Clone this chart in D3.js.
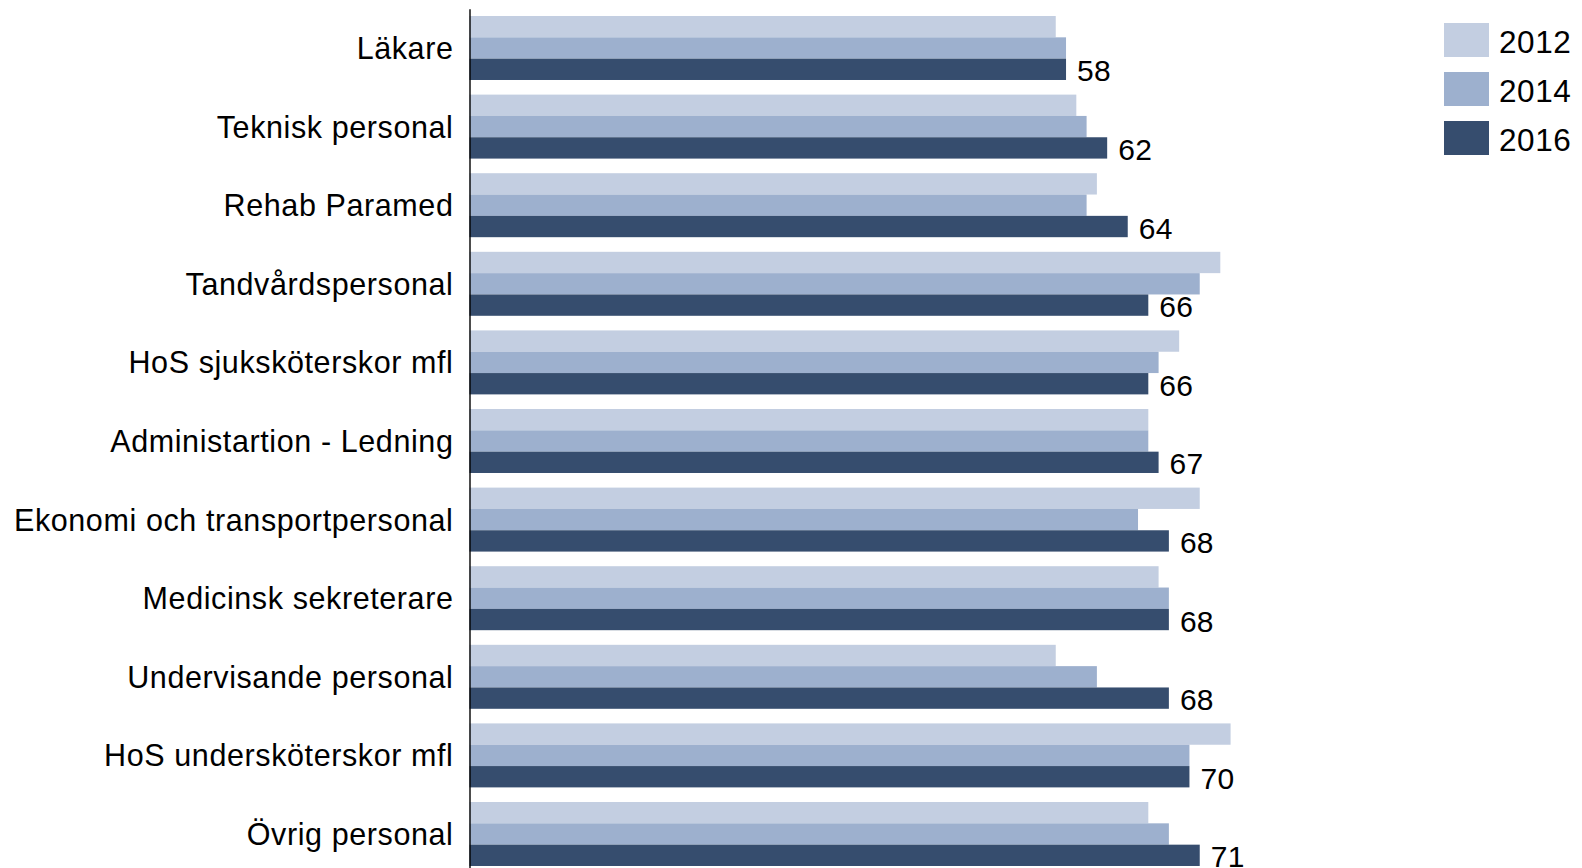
<!DOCTYPE html>
<html>
<head>
<meta charset="utf-8">
<script src="https://cdn.jsdelivr.net/npm/d3@7"></script>
<style>
  html, body { margin: 0; padding: 0; background: #fff; }
  svg { display: block; }
  text { font-family: Arial, "Liberation Sans", sans-serif; fill: #000; }
</style>
</head>
<body>
<svg id="chart" width="1582" height="868"></svg>
<script>
const categories = ["Läkare", "Teknisk personal", "Rehab Paramed", "Tandvårdspersonal",
  "HoS sjuksköterskor mfl", "Administartion - Ledning", "Ekonomi och transportpersonal",
  "Medicinsk sekreterare", "Undervisande personal", "HoS undersköterskor mfl", "Övrig personal"];
const seriesNames = ["2012", "2014", "2016"];
const values2012 = [57, 59, 61, 73, 69, 66, 71, 67, 57, 74, 66];
const values2014 = [58, 60, 60, 71, 67, 66, 65, 68, 61, 70, 68];
const values2016 = [58, 62, 64, 66, 66, 67, 68, 68, 68, 70, 71];
const colors = ["#C3CEE1", "#9DB0CE", "#364D6E"];

const seriesValues = [values2012, values2014, values2016];

const svg = d3.select("#chart");

const x = d3.scaleLinear().domain([0, 100]).range([469.5, 1498]);
const y = d3.scaleBand().domain(categories).range([8.7, 873.3])
  .paddingInner(0.186).paddingOuter(0.093);
const ySub = d3.scaleBand().domain(seriesNames).range([0, y.bandwidth()]).padding(0);

const groups = svg.selectAll("g.grp").data(categories).enter().append("g")
  .attr("class", "grp")
  .attr("transform", d => `translate(0,${y(d)})`);

groups.selectAll("rect").data((c, i) => seriesNames.map((s, k) => ({ s, k, v: seriesValues[k][i] })))
  .enter().append("rect")
  .attr("x", x(0))
  .attr("y", d => ySub(d.s))
  .attr("width", d => x(d.v) - x(0))
  .attr("height", ySub.bandwidth())
  .attr("fill", d => colors[d.k]);

// value labels for 2016
groups.append("text")
  .attr("x", (c, i) => x(values2016[i]) + 11)
  .attr("y", ySub("2016") + ySub.bandwidth() + 1.5)
  .attr("font-size", 30)
  .attr("letter-spacing", 0.3)
  .text((c, i) => d3.format("d")(values2016[i]));

// y axis
const yAxis = d3.axisLeft(y).tickSize(0).tickPadding(16);
const ga = svg.append("g").attr("transform", `translate(${x(0)},0)`).call(yAxis);
ga.select(".domain").attr("stroke", "#000").attr("stroke-width", 1.4);
ga.selectAll(".tick text").attr("font-size", 30.5)
  .attr("letter-spacing", 0.6)
  .attr("font-family", 'Arial, "Liberation Sans", sans-serif').attr("fill", "#000")
  .attr("dy", "0.36em");

// legend
const legend = svg.append("g").selectAll("g").data(seriesNames).enter().append("g")
  .attr("transform", (d, i) => `translate(1444,${23 + i * 49})`);
legend.append("rect").attr("width", 45).attr("height", 34).attr("fill", (d, i) => colors[i]);
legend.append("text").attr("x", 55).attr("y", 30).attr("font-size", 31.5)
  .attr("letter-spacing", 0.6).text(d => d);
</script>
</body>
</html>
